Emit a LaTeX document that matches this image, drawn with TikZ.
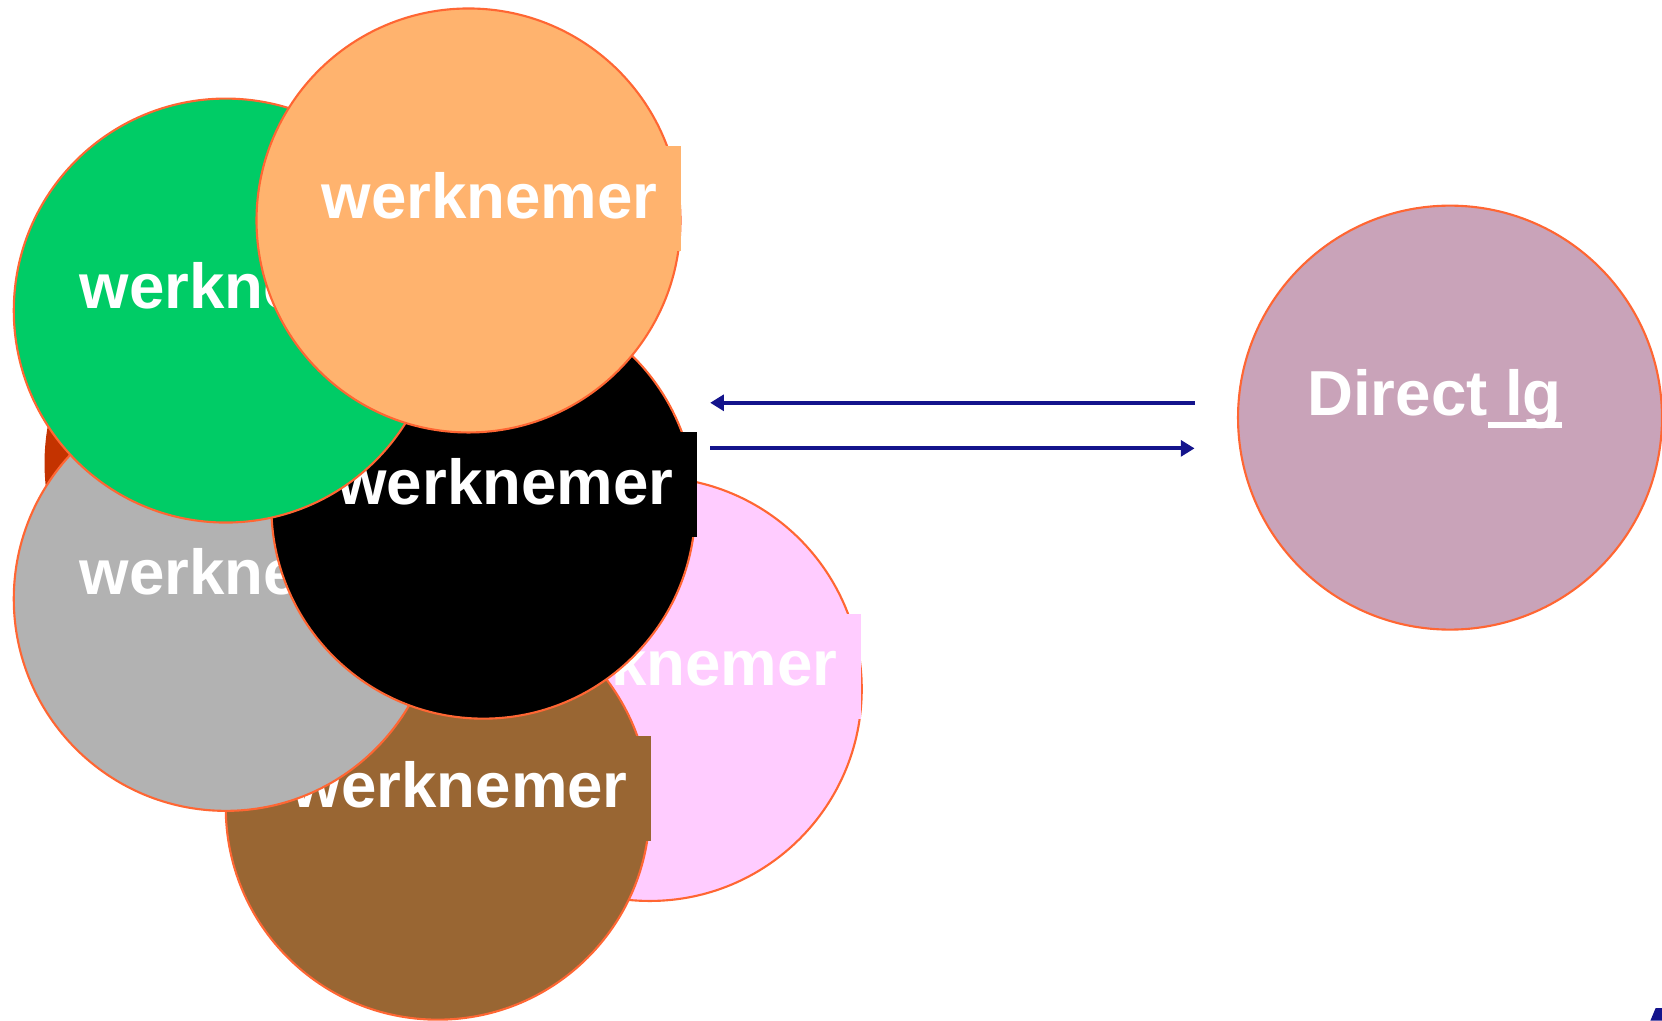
\documentclass[tikz,border=0pt]{standalone}
\usepackage{fontspec}
\setmainfont{Liberation Sans}
\usetikzlibrary{arrows.meta}
\definecolor{edgeclr}{RGB}{255,102,51}
\definecolor{orangefill}{RGB}{255,179,110}
\definecolor{greenfill}{RGB}{0,204,102}
\definecolor{greyfill}{RGB}{178,178,178}
\definecolor{pinkfill}{RGB}{255,204,255}
\definecolor{brownfill}{RGB}{153,102,51}
\definecolor{redfill}{RGB}{196,51,0}
\definecolor{mauvefill}{RGB}{201,163,185}
\definecolor{navy}{RGB}{20,20,140}
\newcommand\myul[1]{\setbox0\hbox{#1}\rlap{\rule[-5.9pt]{\wd0}{2.8pt}}\box0}
\tikzset{
  petal/.style={circle, minimum size=200pt, inner sep=0pt, fill=#1, draw=edgeclr, line width=1pt},
  tbox/.style={anchor=base west, fill=#1, inner xsep=11pt, inner ysep=0pt,
    text height=34pt, text depth=15.5pt, text=white,
    font=\bfseries\fontsize{30}{36}\selectfont},
  flow/.style={draw=navy, line width=2pt, -{Triangle[length=6.5pt,width=7.5pt]}}
}
\begin{document}
\begin{tikzpicture}[x=0.5pt,y=-0.5pt]
\useasboundingbox (0,0) rectangle (1568,963);
% back circle
\node[circle, minimum size=200pt, inner sep=0pt, fill=redfill] (cred) at (242,437) {};
% pink
\node[petal=pinkfill] (cpink) at (613,650) {};
\node[tbox=pinkfill] (tpink) at (451,647) {werknemer};
% brown
\node[petal=brownfill] (cbrown) at (413,762) {};
\node[tbox=brownfill] (tbrown) at (253,762) {werknemer};
% grey
\node[petal=greyfill] (cgrey) at (213,565) {};
\node[tbox=greyfill] (tgrey) at (53,561) {werknemer};
% black
\node[petal=black] (cblack) at (456,478) {};
\node[tbox=black] (tblack) at (296,476) {werknemer};
% green
\node[petal=greenfill] (cgreen) at (213,293) {};
\node[tbox=greenfill] (tgreen) at (53,291) {werknemer};
% orange
\node[petal=orangefill] (corange) at (442,208) {};
\node[tbox=orangefill] (torange) at (281,206) {werknemer};
% right circle
\node[petal=mauvefill] (cdir) at (1368,394) {};
\node[anchor=base west, inner sep=0pt, text=white, font=\bfseries\fontsize{30}{36}\selectfont] (tdir) at (1233,392) {Direct\myul{ lg}};
% arrows
\coordinate (l1) at (670,380);
\coordinate (r1) at (1127,380);
\coordinate (l2) at (670,423);
\coordinate (r2) at (1127,423);
\draw[flow] (r1) -- (l1);
\draw[flow] (l2) -- (r2);
% corner fragment
\fill[navy] (1562,951) -- (1568,951) -- (1568,963) -- (1557,963) -- cycle;
\end{tikzpicture}
\end{document}
